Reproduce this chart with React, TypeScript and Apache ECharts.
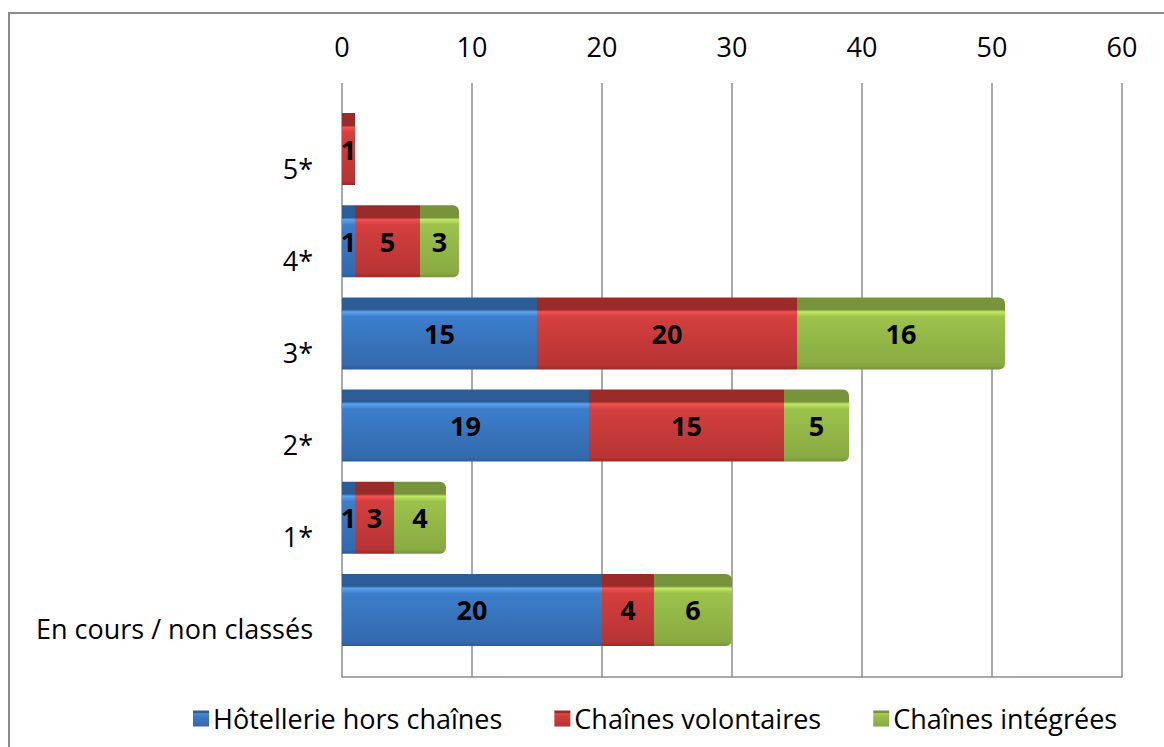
import React, { useEffect, useRef } from "react";
import * as echarts from "echarts";

const categories = ["En cours / non classés", "1*", "2*", "3*", "4*", "5*"];
const seriesNames = ["Hôtellerie hors chaînes", "Chaînes volontaires", "Chaînes intégrées"];
const hotellerie = [20, 1, 19, 15, 1, 0];
const volontaires = [4, 3, 15, 20, 5, 1];
const integrees = [6, 4, 5, 16, 3, 0];
const axisMin = 0;
const axisMax = 60;
const axisStep = 10;

const FONT = "'Open Sans', sans-serif";
const FS = 27;

function grad(dark: string, light: string, main: string, bottom: string) {
  return new echarts.graphic.LinearGradient(0, 0, 0, 1, [
    { offset: 0, color: dark },
    { offset: 0.17, color: dark },
    { offset: 0.2, color: light },
    { offset: 0.27, color: main },
    { offset: 0.94, color: bottom },
    { offset: 1, color: dark },
  ]);
}

export default function App() {
  const ref = useRef<HTMLDivElement>(null);
  useEffect(() => {
    if (!ref.current) return;
    const chart = echarts.init(ref.current, undefined, { renderer: "svg" });
    const left = 342;
    const width = 780;
    const labelStyle = {
      show: true,
      position: "inside" as const,
      color: "#000",
      fontFamily: FONT,
      fontSize: FS,
      fontWeight: "bold" as const,
      formatter: (p: any) => (p.value > 0 ? String(p.value) : ""),
    };
    const colors = [
      grad("#2c5d96", "#5ea2f0", "#3c7ecb", "#3469ad"),
      grad("#9b2b29", "#f25252", "#d43f3f", "#b73434"),
      grad("#77933c", "#c2ea66", "#9cc24c", "#89aa42"),
    ];
    const values = [hotellerie, volontaires, integrees];
    chart.setOption({
      animation: false,
      backgroundColor: "#ffffff",
      graphic: [
        {
          type: "rect",
          shape: { x: 9, y: 13, width: 1200, height: 800 },
          style: { fill: "none", stroke: "#8a8a8a", lineWidth: 2 },
          silent: true,
        },
      ],
      legend: {
        data: seriesNames,
        left: 188,
        top: 700,
        icon: "rect",
        itemWidth: 16,
        itemHeight: 16,
        itemGap: 52,
        textStyle: { fontFamily: FONT, fontSize: FS, color: "#000", padding: [0, 0, 0, -1] },
      },
      grid: [
        { left, width, top: 83, height: 594 },
        { left, width, top: 103, height: 553 },
        { left, width, top: 122, height: 553 },
      ],
      xAxis: [
        {
          gridIndex: 0,
          type: "value",
          position: "top",
          min: axisMin,
          max: axisMax,
          interval: axisStep,
          axisLine: { show: true, lineStyle: { color: "#8c8c8c", width: 1.5 } },
          axisTick: { show: false },
          splitLine: { show: true, lineStyle: { color: "#8c8c8c", width: 1.5 } },
          axisLabel: { fontFamily: FONT, fontSize: FS, color: "#000", margin: 23 },
        },
        { gridIndex: 1, type: "value", min: axisMin, max: axisMax, show: false },
        { gridIndex: 2, type: "value", min: axisMin, max: axisMax, show: false },
      ],
      yAxis: [
        { gridIndex: 0, type: "value", show: false },
        { gridIndex: 1, type: "category", data: categories, show: false },
        {
          gridIndex: 2,
          type: "category",
          data: categories,
          axisLine: { show: false },
          axisTick: { show: false },
          splitLine: { show: false },
          axisLabel: { fontFamily: FONT, fontSize: FS, color: "#000", margin: 29 },
        },
      ],
      series: seriesNames.map((name, i) => ({
        name,
        type: "bar",
        xAxisIndex: 1,
        yAxisIndex: 1,
        stack: "total",
        barWidth: 72,
        data: values[i],
        label: labelStyle,
        itemStyle: {
          color: colors[i],
          borderRadius: i === 2 ? [0, 6, 6, 0] : 0,
        },
      })),
    });
    return () => chart.dispose();
  }, []);
  return (
    <div
      ref={ref}
      style={{ position: "fixed", left: 0, top: 0, width: 1164, height: 747 }}
    />
  );
}
